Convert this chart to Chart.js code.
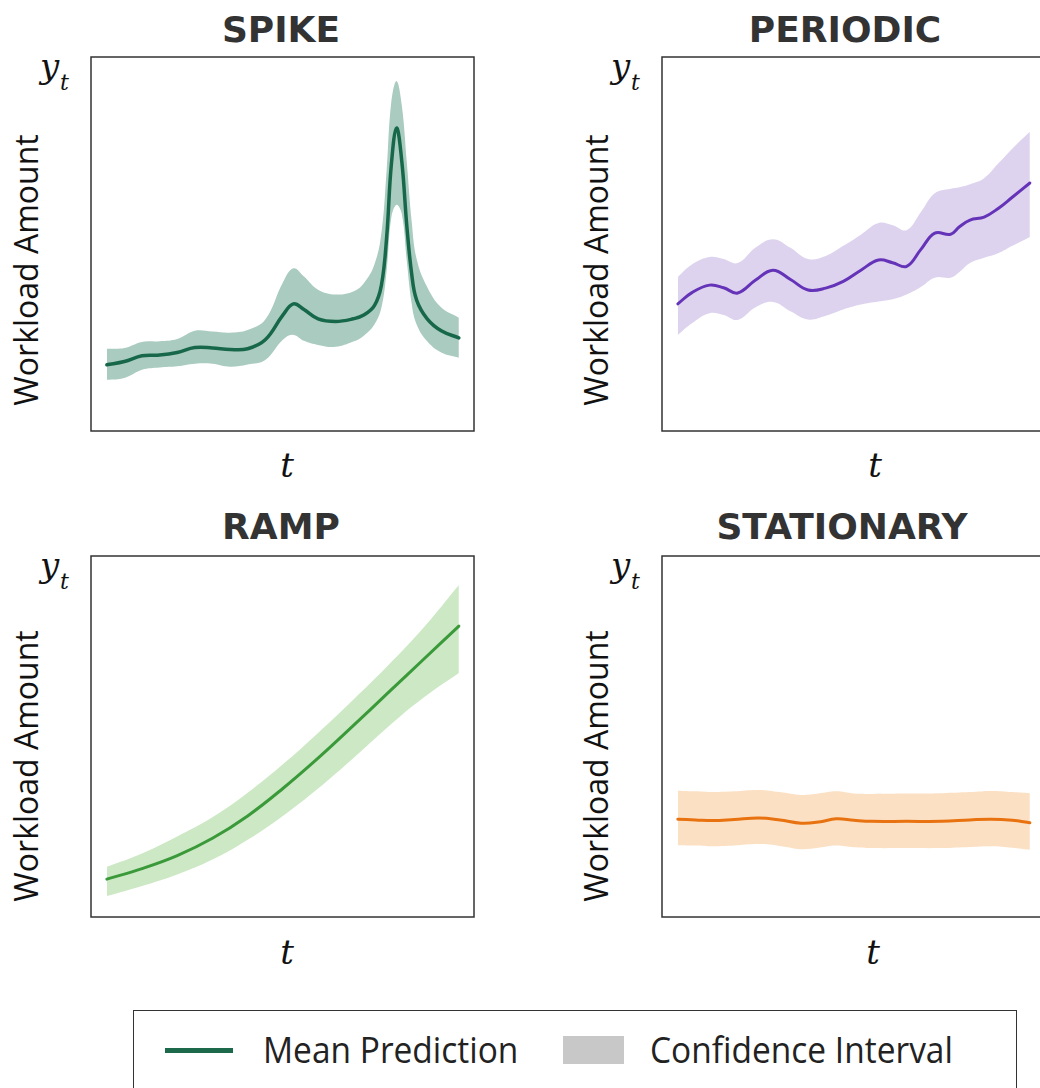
<!DOCTYPE html>
<html>
<head>
<meta charset="utf-8">
<script src="https://cdn.jsdelivr.net/npm/chart.js@4.4.0/dist/chart.umd.min.js"></script>
<style>
  html, body { margin: 0; padding: 0; background: #fff; }
  #page { position: relative; width: 1040px; height: 1088px; overflow: hidden; }
  canvas { position: absolute; }
  .title { position: absolute; font-family: "DejaVu Sans"; font-weight: bold; font-size: 36px; line-height: 1; color: #333; transform: translate(-50%, -50%); white-space: nowrap; }
  .ylab { position: absolute; font-family: "Open Sans"; font-size: 32px; line-height: 1; color: #111; transform: translate(-50%, -50%) rotate(-90deg); white-space: nowrap; }
  .math { position: absolute; font-family: "DejaVu Serif"; font-style: italic; line-height: 1; color: #111; white-space: nowrap; }
  .tlab { font-size: 34px; transform: translate(-50%, -50%); }
  #legend { position: absolute; left: 133px; top: 1010px; width: 884px; height: 120px; border: 1.5px solid #333; box-sizing: border-box; }
  .leg-text { position: absolute; font-family: "Open Sans"; font-size: 36px; line-height: 1; color: #222; transform-origin: left center; transform: translateY(-50%) scaleX(0.93); white-space: nowrap; }
</style>
</head>
<body>
<div id="page">
  <!-- titulos -->
  <div class="title" style="left:281px; top:30px;">SPIKE</div>
  <div class="title" style="left:845px; top:30px;">PERIODIC</div>
  <div class="title" style="left:281px; top:527px;">RAMP</div>
  <div class="title" style="left:842px; top:527px;">STATIONARY</div>

  <div class="ylab" style="left:26px; top:270px;">Workload Amount</div>
  <div class="ylab" style="left:596px; top:270px;">Workload Amount</div>
  <div class="ylab" style="left:26px; top:766px;">Workload Amount</div>
  <div class="ylab" style="left:596px; top:766px;">Workload Amount</div>

  <!-- y_t -->
  <span class="math" style="left:40px; top:49px; font-size:34px;">y</span>
  <span class="math" style="left:60px; top:72px; font-size:22px;">t</span>
  <span class="math" style="left:611px; top:49px; font-size:34px;">y</span>
  <span class="math" style="left:631px; top:72px; font-size:22px;">t</span>
  <span class="math" style="left:40px; top:548px; font-size:34px;">y</span>
  <span class="math" style="left:60px; top:571px; font-size:22px;">t</span>
  <span class="math" style="left:611px; top:548px; font-size:34px;">y</span>
  <span class="math" style="left:631px; top:571px; font-size:22px;">t</span>

  <!-- t -->
  <span class="math tlab" style="left:287px; top:465px;">t</span>
  <span class="math tlab" style="left:875px; top:465px;">t</span>
  <span class="math tlab" style="left:287px; top:952px;">t</span>
  <span class="math tlab" style="left:873px; top:952px;">t</span>

  <canvas id="spike" width="387" height="378" style="left:89px; top:55px;"></canvas>
  <canvas id="periodic" width="387" height="378" style="left:660px; top:55px;"></canvas>
  <canvas id="ramp" width="387" height="365" style="left:89px; top:554px;"></canvas>
  <canvas id="stationary" width="387" height="365" style="left:660px; top:554px;"></canvas>

  <div id="legend"></div>
  <div style="position:absolute; left:165px; top:1048px; width:68px; height:5px; background:#1c6a4b;"></div>
  <span class="leg-text" style="left:263px; top:1050px;">Mean Prediction</span>
  <div style="position:absolute; left:563px; top:1036px; width:61px; height:28px; background:#c8c8c8;"></div>
  <span class="leg-text" style="left:650px; top:1050px;">Confidence Interval</span>
</div>

<script>
// DATOS: tiempo normalizado 0-100, carga en 0-100
const spikeT     = [0, 5, 10, 15, 20, 25, 30, 35, 40, 45, 50, 53, 56, 60, 65, 70, 73, 76, 78, 79.5, 80.8, 82.3, 83.8, 85.2, 86.6, 88, 91, 95, 100];
const spikeMean  = [17.7, 18.6, 20.1, 20.3, 21, 22.3, 22.2, 21.8, 22, 24.4, 31, 34, 32.5, 30, 29.3, 30, 31, 33.5, 39, 52, 71, 81, 72, 55, 42, 35, 30, 26.8, 24.9];
const spikeUpper = [22, 22.2, 23.8, 24, 24.6, 26.8, 26.6, 26.3, 27, 29.8, 39.7, 43.5, 41.3, 37.8, 36.5, 37.3, 39.5, 44.5, 53, 70, 88, 93.6, 87, 72, 56, 46, 38.5, 33, 30.3];
const spikeLower = [13.7, 14.2, 16.4, 17, 17.3, 18, 18, 17.2, 17.8, 19, 24.4, 25.7, 24.1, 23, 22.5, 23.9, 25.5, 28.5, 33, 43, 57, 60.5, 58, 45.5, 34, 28.5, 24, 21, 19.6];

const periodicT     = [0, 4, 9, 13, 17, 22, 27, 32, 37, 42, 47, 52, 57, 61, 65, 69, 73, 77.5, 80, 83, 87, 91, 95, 100];
const periodicMean  = [34, 37, 39, 38.3, 36.9, 40.3, 43, 40.5, 37.7, 38.2, 40, 43, 45.7, 45, 44, 48.5, 52.9, 52.6, 54.6, 56.4, 57.2, 59.5, 62.5, 66.3];
const periodicUpper = [41.2, 44.5, 46.5, 46, 44.9, 49, 51.3, 49, 46, 46.8, 49.5, 52.5, 55.6, 55, 53.7, 58.5, 63.6, 64.8, 65.2, 66, 67.6, 71.5, 75.5, 80];
const periodicLower = [25.7, 28.8, 31.5, 31, 29.7, 33, 34.5, 32, 29.8, 30.8, 32.5, 33.8, 34.6, 35.2, 36.5, 38.5, 41, 41, 42.5, 44.9, 46.3, 47.5, 49.5, 51.9];

const rampT     = [0, 10, 20, 30, 40, 50, 60, 70, 80, 90, 100];
const rampMean  = [10.5, 13.4, 17, 21.8, 28, 35.6, 44, 53, 62.2, 71.4, 80.6];
const rampUpper = [13.9, 17.6, 22.3, 27.6, 34.4, 42.3, 51, 60.2, 69.8, 80.2, 92];
const rampLower = [5.8, 8.6, 11.8, 15.9, 21.4, 28, 35.6, 44, 52.8, 60.8, 67.6];

const stationaryT     = [0, 5, 10, 16, 23, 29, 35, 40, 45, 50, 55, 65, 75, 83, 89, 95, 100];
const stationaryMean  = [27.1, 26.9, 26.7, 27, 27.4, 26.9, 26, 26.3, 27.2, 26.8, 26.5, 26.5, 26.5, 26.9, 27.1, 26.8, 26.1];
const stationaryUpper = [35, 34.8, 34.6, 34.8, 35.2, 34.6, 33.8, 34.2, 34.8, 34.2, 34.1, 34.2, 34.3, 34.6, 34.9, 34.6, 34.3];
const stationaryLower = [19.9, 19.8, 19.6, 19.8, 20.2, 19.7, 18.8, 19.2, 19.8, 19.3, 19.1, 19.1, 19.1, 19.4, 19.6, 19.2, 18.6];

// marco alrededor del area del grafico
const frame = {
  id: "frame",
  afterDraw(chart) {
    const { ctx, chartArea: a } = chart;
    ctx.save();
    ctx.strokeStyle = "#333";
    ctx.lineWidth = 1.5;
    ctx.strokeRect(a.left, a.top, a.right - a.left, a.bottom - a.top);
    ctx.restore();
  }
};

function makePanel(id, t, mean, upper, lower, lineColor, bandColor, lineWidth) {
  const pts = (arr) => t.map((x, i) => ({ x: x, y: arr[i] }));
  new Chart(document.getElementById(id), {
    type: "line",
    data: {
      datasets: [
        // order mas alto = se dibuja antes, la media queda encima
        { data: pts(upper), order: 2, borderWidth: 0, pointRadius: 0, fill: "+1", backgroundColor: bandColor },
        { data: pts(lower), order: 2, borderWidth: 0, pointRadius: 0, fill: false },
        { data: pts(mean), order: 0, borderColor: lineColor, borderWidth: lineWidth, pointRadius: 0, fill: false },
      ],
    },
    options: {
      responsive: false,
      animation: false,
      devicePixelRatio: 1,
      layout: { padding: 2 },
      elements: { line: { tension: 0.4, borderCapStyle: "round" } },
      plugins: { legend: { display: false }, tooltip: { enabled: false } },
      scales: {
        x: { type: "linear", display: false, min: -4.5, max: 104.3 },
        y: { display: false, min: 0, max: 100 },
      },
    },
    plugins: [frame],
  });
}

makePanel("spike", spikeT, spikeMean, spikeUpper, spikeLower, "#17684a", "#aacbbf", 3.5);
makePanel("periodic", periodicT, periodicMean, periodicUpper, periodicLower, "#6433b8", "#ddd3ee", 3);
makePanel("ramp", rampT, rampMean, rampUpper, rampLower, "#3a9a3a", "#cde8c4", 3);
makePanel("stationary", stationaryT, stationaryMean, stationaryUpper, stationaryLower, "#e8720f", "#fbe0c4", 3);
</script>
</body>
</html>
